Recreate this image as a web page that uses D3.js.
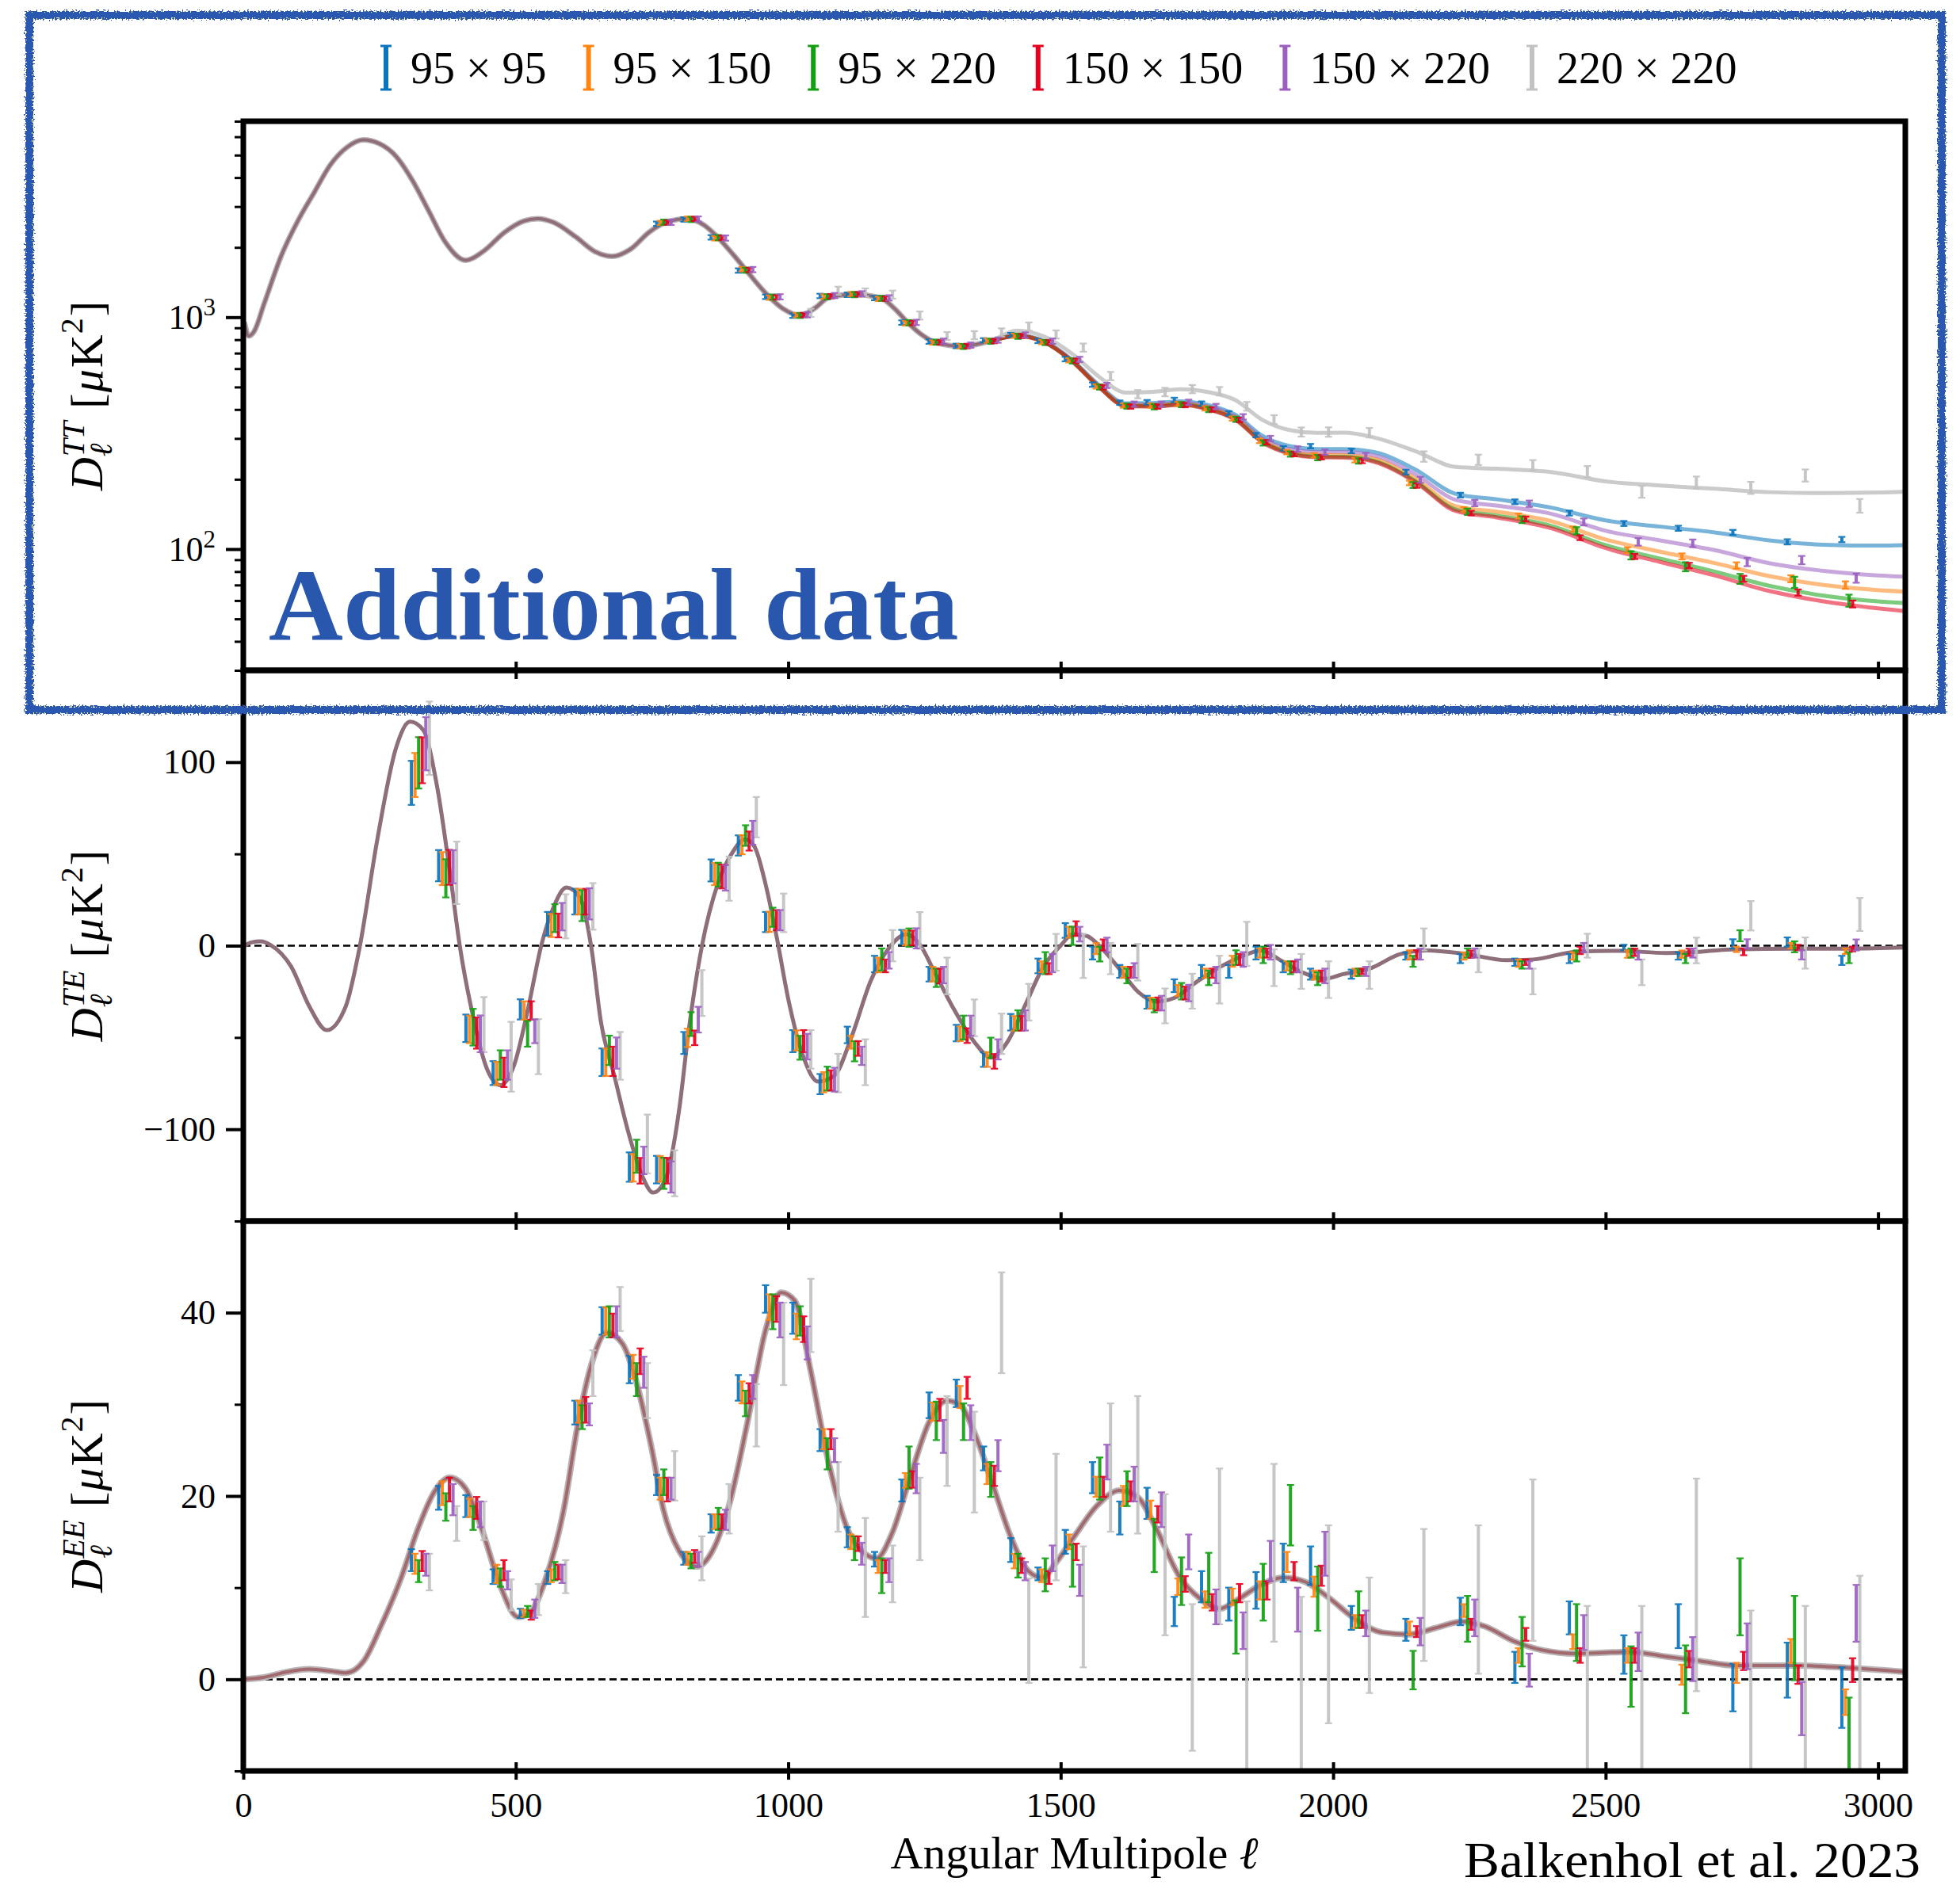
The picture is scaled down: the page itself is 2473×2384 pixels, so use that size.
<!DOCTYPE html>
<html>
<head>
<meta charset="utf-8">
<script src="https://cdn.jsdelivr.net/npm/d3@7"></script>
<style>
  html, body { margin: 0; padding: 0; background: #ffffff; }
  svg { display: block; }
  text { font-family: "Liberation Serif", "Times New Roman", serif; fill: #000; }
</style>
</head>
<body>
<svg id="chart" width="2473" height="2384"></svg>
<script>
// ---------------------------------------------------------------------------
// Spectra (frequency cross-spectra) and their colours
// ---------------------------------------------------------------------------
const spectra = ["95 \u00d7 95", "95 \u00d7 150", "95 \u00d7 220", "150 \u00d7 150", "150 \u00d7 220", "220 \u00d7 220"];
const spectrumColors = ["#0a74bc", "#ff8412", "#12a012", "#e6001e", "#9b5fc0", "#c2c2c2"];
const modelOpacity = [0.55, 0.55, 0.55, 0.55, 0.55, 0.85];

// Multipole bin centres
const ttBins = [775, 825, 875, 925, 975, 1025, 1075, 1125, 1175, 1225, 1275, 1325, 1375, 1425, 1475,
  1525, 1575, 1625, 1675, 1725, 1775, 1825, 1875, 1925, 1975,
  2050, 2150, 2250, 2350, 2450, 2550, 2650, 2750, 2850, 2950];
const polBins = [325, 375, 425, 475, 525, 575, 625, 675, 725, 775, 825, 875, 925, 975, 1025, 1075,
  1125, 1175, 1225, 1275, 1325, 1375, 1425, 1475, 1525, 1575, 1625, 1675, 1725, 1775, 1825, 1875,
  1925, 1975, 2050, 2150, 2250, 2350, 2450, 2550, 2650, 2750, 2850, 2950];

// ---------------------------------------------------------------------------
// TT bandpowers [uK^2] and their 1-sigma errors
// ---------------------------------------------------------------------------
const tt95x95 = [2530, 2640, 2210, 1590, 1225, 1015, 1235, 1250, 1210, 948, 785, 752, 795, 838, 790, 660, 512, 428, 430, 440, 424, 385, 310, 272, 278, 265, 215, 171, 160, 143, 129, 123, 118, 107.5, 110];
const tt95x95Err = [56, 58, 49, 35, 27, 22, 27, 28, 27, 21, 17, 17, 17, 18, 17, 15, 11, 9.4, 9.5, 9.7, 9.3, 8.5, 6.8, 6, 6.1, 6, 5, 4, 3.8, 3.5, 3.2, 3.1, 3, 2.8, 2.9];
const tt95x150 = [2550, 2660, 2190, 1610, 1215, 1020, 1228, 1258, 1200, 942, 778, 750, 792, 832, 782, 652, 503, 416, 416, 423, 405, 366, 293, 262, 254, 242, 193, 148, 139, 122, 99, 93, 85, 74.5, 70];
const tt95x150Err = [56, 58, 48, 35, 27, 22, 27, 28, 26, 21, 17, 17, 17, 18, 17, 14, 11, 9.2, 9.2, 9.3, 9, 8, 6.5, 5.8, 5.6, 5.5, 4.5, 3.6, 3.5, 3.2, 2.8, 2.8, 2.7, 2.6, 2.6];
const tt95x220 = [2570, 2640, 2205, 1595, 1222, 1018, 1225, 1252, 1207, 947, 781, 748, 788, 828, 778, 648, 500, 414, 411, 420, 400, 363, 287, 257, 248, 240, 189, 145, 134, 120, 94, 84, 74.5, 72, 60];
const tt95x220Err = [67, 69, 57, 41, 32, 26, 32, 33, 31, 25, 20, 19, 20, 22, 20, 17, 13, 11, 11, 11, 10.5, 9.5, 7.5, 6.8, 6.6, 6.5, 5.5, 4.6, 4.5, 4.3, 3.8, 3.8, 3.7, 4, 3.6];
const tt150x150 = [2560, 2655, 2200, 1600, 1218, 1022, 1232, 1256, 1203, 944, 779, 751, 789, 830, 779, 649, 499, 412, 412, 418, 400, 361, 289, 257, 249, 240, 188, 143, 135, 112, 93, 85, 74.5, 65, 58];
const tt150x150Err = [56, 58, 48, 35, 27, 22, 27, 28, 26, 21, 17, 17, 17, 18, 17, 14, 11, 9, 9, 9.2, 8.8, 8, 6.4, 5.7, 5.5, 5.3, 4.2, 3.3, 3.1, 2.7, 2.4, 2.3, 2.2, 2, 2];
const tt150x220 = [2565, 2650, 2195, 1605, 1225, 1025, 1240, 1262, 1212, 950, 788, 758, 797, 838, 788, 658, 508, 422, 422, 430, 412, 372, 300, 270, 262, 253, 199, 158, 157, 131, 107.5, 106, 88, 89.7, 75];
const tt150x220Err = [67, 69, 57, 42, 32, 27, 32, 33, 32, 25, 21, 20, 21, 22, 21, 17, 13, 11, 11, 11, 11, 10, 8, 7.2, 7, 7, 6, 5, 5, 4.5, 4, 4, 3.6, 3.7, 3.4];
const tt220x220 = [null, null, null, null, null, 1045, 1302, 1280, 1253, 1018, 830, 837, 860, 912, 843, 740, 558, 466, 476, 490, 480, 413, 362, 320, 320, 318, 251, 243, 230, 216, 177, 194, 184, 208, 154];
const tt220x220Err = [null, null, null, null, null, 42, 52, 51, 50, 41, 33, 34, 35, 37, 34, 30, 23, 19, 20, 20, 20, 18, 16, 14.5, 15, 15, 13, 12.5, 12, 12, 10.5, 11.5, 11, 12.5, 10.5];

// TT best-fit model: shared CMB part, then per-spectrum tails with foregrounds
const ttModelBase = [[2, 950], [10, 830], [20, 870], [38, 1140], [70, 1850], [100, 2600], [130, 3450],
  [160, 4550], [190, 5400], [220, 5820], [250, 5600], [280, 4950], [310, 3900], [340, 2880], [370, 2120],
  [408, 1760], [440, 1920], [480, 2330], [515, 2600], [540, 2660], [570, 2560], [610, 2220], [645, 1920],
  [677, 1830], [710, 1960], [745, 2330], [780, 2590], [815, 2660], [845, 2500], [870, 2220], [900, 1850],
  [930, 1520], [960, 1260], [990, 1090], [1022, 1018], [1050, 1100], [1075, 1220], [1120, 1255],
  [1170, 1210], [1195, 1090], [1220, 945], [1245, 840], [1270, 779], [1320, 749], [1370, 789]];
const ttTailEll = [1420, 1470, 1520, 1570, 1620, 1670, 1720, 1770, 1820, 1870, 1920, 1970, 2020, 2075,
  2150, 2225, 2300, 2400, 2500, 2600, 2700, 2800, 2900, 3000, 3050];
const ttTail95x95 = [837, 787, 657, 510, 425, 426, 434, 418, 380, 308, 278, 270, 270, 262, 221, 173, 164, 151, 133, 125, 118, 109, 104.5, 103.5, 104];
const ttTail95x150 = [832, 781, 650, 503, 416, 416, 423, 406, 367, 294, 263, 255, 254, 245, 202, 153, 145, 132, 110, 97.5, 87, 76.5, 70, 66.5, 65.5];
const ttTail95x220 = [831, 780, 649, 501, 414, 413, 420, 402, 363, 290.5, 259.5, 250.5, 250, 240, 197, 148, 139.5, 126, 104, 91, 80, 69.5, 63, 59.5, 58.5];
const ttTail150x150 = [830, 779, 648, 500, 413, 412, 419, 401, 362, 289, 258, 249, 248, 238, 195, 146, 137, 123, 101, 88, 77, 66, 59.5, 55.5, 54];
const ttTail150x220 = [835, 784, 654, 506, 420, 420, 428, 411, 373, 300, 270, 262, 262, 253, 211, 163, 154, 142, 120, 109, 99, 87, 80.5, 77, 76];
const ttTail220x220 = [875, 824, 698, 555, 473, 477, 489, 476, 440, 361, 326, 317, 318, 303, 265, 226, 222, 215, 196, 188, 182, 176, 174.5, 175.5, 177];

// ---------------------------------------------------------------------------
// TE bandpowers [value, error] in uK^2
// ---------------------------------------------------------------------------
const te95x95 = [[88.7, 12], [43.6, 8.5], [-45, 7.5], [-69.4, 6.5], [-34.7, 5.5], [11.9, 6.5], [24, 7], [-63.5, 7.5], [-120.6, 8], [-122, 7.5], [-53, 6], [41, 6], [54.6, 5.5], [12.9, 5.5], [-52, 6], [-75.4, 5.5], [-48.6, 4.5], [-10, 4.5], [4.6, 4], [-15.5, 4], [-47.6, 4.5], [-62, 4], [-41.7, 4.5], [-11, 4], [8.3, 4], [-4, 3.5], [-14, 3.5], [-30.8, 3.5], [-21.8, 3.5], [-14, 3.5], [-14, 3.5], [-4, 3.5], [-11.5, 3], [-15.5, 3], [-15.5, 2.5], [-5.6, 2], [-7, 2.5], [-9, 2], [-7, 2.5], [-1, 1.5], [-5.6, 2], [1, 2.5], [2, 2.5], [-8, 2.5]];
const te95x150 = [[93, 12], [42, 9], [-45.6, 7.5], [-69.6, 6.3], [-35.3, 5], [11, 6.3], [24, 7], [-63.5, 7.5], [-121, 7.5], [-121.6, 7], [-50.2, 5], [39, 6], [55, 5.2], [13, 5.5], [-51.6, 5.5], [-74.4, 5.5], [-52.6, 3.5], [-10.5, 4], [4.2, 4], [-15.5, 4], [-48, 4], [-62, 4], [-42.3, 4], [-11.5, 3], [7.3, 3], [-1.6, 3], [-14.5, 3], [-31.3, 3], [-24.4, 3], [-15, 2.5], [-8.5, 3], [-4, 2.5], [-11, 2.5], [-16, 2.5], [-14.5, 2], [-5, 2.5], [-5.6, 2], [-9.5, 2], [-5.6, 2], [-4.6, 2], [-4.6, 2], [-2, 1.5], [0, 1.5], [-3, 1.5]];
const te95x220 = [[99.6, 14], [36.7, 10.4], [-44.4, 10], [-65, 8], [-48, 7], [15, 7.6], [21.8, 8.4], [-57, 8], [-114.7, 9], [-124, 8.5], [-42.7, 6.5], [38.7, 6.5], [60, 5.6], [15.5, 5.2], [-55.6, 6.5], [-72.4, 6.5], [-57.5, 5.5], [-7.5, 6], [4.4, 5], [-17.5, 5], [-44.6, 6.5], [-55.6, 5.5], [-40.7, 5.5], [-9.5, 6], [5.4, 5], [-4.6, 4], [-16.5, 4], [-32.8, 3.5], [-24.8, 4.5], [-17.5, 4], [-6.5, 4], [-5, 4.5], [-12, 3.5], [-18, 3.5], [-14.5, 2], [-8.5, 3], [-4, 2.5], [-10.5, 2], [-5.6, 3], [-4, 2.5], [-7, 2.5], [5.4, 3], [-0.6, 3], [-6.5, 3]];
const te150x150 = [[101, 12.5], [42.7, 9.5], [-47.6, 8.5], [-69, 8], [-35.3, 5], [11, 6.5], [24, 7], [-63, 8], [-122.6, 7], [-122.6, 7], [-50.2, 4], [37.7, 6.5], [57, 5.2], [13.9, 5.5], [-52, 6], [-73.4, 5.5], [-56, 4], [-11, 3.5], [4.2, 4], [-16.5, 4], [-49, 4], [-63, 4], [-42.3, 4], [-12.5, 3], [9.3, 4], [0.4, 3], [-14.5, 3], [-31.7, 3.5], [-25.8, 3.5], [-15, 2.5], [-7.5, 3], [-4, 2.5], [-11.5, 3], [-16.5, 3], [-14, 1.5], [-5, 2.5], [-4.6, 2], [-9, 1.5], [-2.6, 2], [-3.6, 2], [-3.6, 2], [-3.4, 1.8], [-1, 1.5], [-1.8, 1.3]];
const te150x220 = [[110, 14.5], [43, 9], [-48, 10], [-65, 8], [-46.6, 6.5], [15.8, 7.5], [22.8, 8.5], [-58.5, 8.5], [-117, 7.5], [-126, 8.5], [-40.3, 7], [37, 7], [61.5, 6.5], [13.9, 5.5], [-55, 7], [-73, 6.5], [-60, 5], [-8, 4.5], [4, 5.5], [-16, 4.5], [-43.6, 5.5], [-56.5, 5.5], [-40.7, 5.5], [-9.5, 5], [6.3, 4], [0.4, 4], [-13.5, 4], [-31.3, 4], [-25.8, 4.5], [-16, 4.5], [-7.5, 4], [-3.6, 4], [-11, 3.5], [-16.5, 4], [-14, 2.5], [-4.6, 3], [-4, 2.5], [-10.5, 2], [-1, 2.5], [-5.6, 2], [-4, 2.5], [1, 2.5], [-5, 2.5], [0.4, 3]];
const te220x220 = [[113, 20], [39.7, 17], [-43, 15], [-60.5, 19], [-55, 15], [16, 12], [21.4, 12.7], [-60, 13], [-108, 16], [-124, 12.5], [-25.8, 12.5], [36.5, 12], [70, 11], [17.9, 10.5], [-56.5, 10.5], [-69.4, 10.5], [-63.5, 12.5], [0, 8.5], [8.3, 10], [-16.5, 10], [-39.3, 10], [-48, 11], [-30.8, 10], [-3.6, 10], [-5.6, 12], [-7, 8.5], [-9, 10], [-32.8, 9.5], [-24.8, 9.5], [-18.5, 13], [1, 12], [-12, 10], [-14, 9.5], [-18.5, 10], [-16, 7.5], [3.4, 6], [-8, 6.5], [-19.5, 7], [0, 6.5], [-14.5, 7], [-2.6, 7], [16.3, 8], [-4, 8.5], [17, 9]];

// TE best-fit model
const teModel = [[2, 0], [15, 1.8], [32, 2.4], [50, 0.4], [88, -11.5], [121, -33], [153, -46], [188, -33],
  [213, -1.6], [246, 58], [280, 107.5], [306, 122], [330, 117.5], [355, 87.7], [380, 38], [397, 0.4],
  [422, -39], [447, -67], [472, -76], [497, -65], [522, -35], [547, 0.4], [568, 20], [593, 31.7],
  [618, 26], [639, -1.6], [656, -41], [681, -71], [706, -101], [731, -124.6], [752, -134.5], [775, -127],
  [800, -89], [817, -47], [842, 0.4], [871, 34], [896, 50], [921, 58], [938, 54], [958, 34], [979, 4.4],
  [1000, -29], [1026, -59], [1055, -74], [1084, -71], [1117, -49], [1151, -19.4], [1184, -1.6],
  [1217, 6.3], [1242, 0.4], [1267, -13.5], [1301, -33], [1343, -53], [1372, -61], [1401, -53],
  [1434, -33], [1468, -11.5], [1501, 0.4], [1522, 6.3], [1547, 5.4], [1576, -1.6], [1610, -13.5],
  [1643, -25.4], [1676, -30.4], [1709, -28.4], [1751, -19.4], [1793, -11.5], [1834, -5.6], [1868, -2.6],
  [1901, -7.5], [1943, -14.5], [1985, -18], [2018, -15.5], [2067, -12.5], [2123, -4.6], [2172, -2.6],
  [2245, -4.6], [2318, -7.9], [2367, -7.5], [2448, -3.2], [2529, -2.8], [2610, -4], [2658, -3.6],
  [2731, -2], [2853, -1.6], [2950, -1.6], [3050, -1]];

// ---------------------------------------------------------------------------
// EE bandpowers [value, error] in uK^2
// ---------------------------------------------------------------------------
const ee95x95 = [[13, 1.2], [19.8, 1.3], [18.9, 1.2], [11.2, 0.8], [7.2, 0.5], [11.1, 0.7], [29.1, 1.3], [39.1, 1.5], [33.8, 1.5], [21.2, 1.1], [13.2, 0.7], [17, 1], [31.8, 1.4], [41.5, 1.5], [39.4, 1.7], [26.1, 1.2], [15.5, 1.1], [13.1, 0.8], [20.6, 1.2], [29.9, 1.4], [31.2, 1.5], [24.1, 1.3], [14.1, 1.3], [11.5, 0.7], [15, 1.3], [22, 1.7], [17.6, 1.8], [19.2, 1.7], [7.4, 1.6], [10.1, 1.7], [8.2, 1.8], [9.7, 2], [12.7, 2.1], [12.4, 2.1], [6.7, 1.3], [5.4, 1.2], [7.4, 1.5], [1.3, 1.7], [6.7, 1.8], [2.7, 2.1], [5.8, 2.4], [-0.9, 2.6], [1, 3], [-2, 3.3]];
const ee95x150 = [[12.6, 1.1], [20.3, 1.3], [18.7, 1], [11.5, 1], [7.2, 0.4], [11.3, 0.7], [29.2, 1.2], [39.1, 1.5], [34.1, 1.3], [20.8, 1.2], [13.2, 0.7], [17.2, 0.8], [31.3, 1.2], [40.6, 1.4], [38.5, 1.4], [26.2, 1.1], [15, 0.8], [12.3, 0.7], [21.7, 0.8], [29.2, 1], [30.8, 1.2], [22.4, 1.1], [12.9, 0.8], [11.3, 0.7], [15, 0.8], [21, 1.1], [20, 1.1], [18.5, 1], [10.1, 0.9], [8.7, 0.9], [9, 0.9], [9.7, 1], [12.8, 1.1], [10.1, 1.1], [6.3, 0.7], [5.6, 0.7], [7.5, 0.7], [2.6, 0.8], [4.1, 0.8], [2.6, 0.8], [0.5, 1.1], [0.7, 1.1], [3.1, 1.3], [-2.5, 1.4]];
const ee95x220 = [[11.8, 1.2], [18.8, 1.5], [17.6, 1.3], [11.1, 1], [7.4, 0.6], [11.8, 1], [28.6, 1.3], [39, 1.7], [32.7, 1.8], [21.5, 1.4], [12.9, 0.8], [17.5, 1.2], [30.1, 1.4], [40.1, 1.9], [39.1, 1.6], [24.6, 1.7], [14.3, 1.3], [11.3, 1.9], [23.1, 2.3], [28.2, 2.1], [28.1, 2], [21.8, 1.9], [12.4, 1.3], [11.4, 1.8], [12.4, 2.3], [21.9, 2.3], [20.8, 1.9], [14.6, 2.9], [10.7, 2.6], [11.1, 2.7], [5.7, 2.9], [9.5, 3.1], [17.9, 3.3], [8.8, 3.5], [7.6, 2], [1, 2.1], [6.6, 2.5], [4.1, 2.7], [5.1, 3.1], [0.3, 3.3], [0, 3.7], [9, 4.2], [4.5, 4.6], [-8, 6]];
const ee150x150 = [[12.9, 1.1], [20.7, 1.3], [18.7, 1.2], [11.9, 1.1], [7, 0.5], [11.7, 0.8], [29.4, 1.4], [38.6, 1.3], [34.7, 1.4], [20.7, 1.3], [13.4, 0.7], [17.2, 0.8], [31.2, 1.1], [40.4, 1.4], [38.2, 1.4], [26.2, 1.1], [14.8, 0.8], [12.3, 0.7], [21.8, 0.9], [29.4, 1.2], [31.8, 1.2], [22.2, 1.1], [12.4, 0.8], [11.1, 0.7], [13.9, 0.9], [21, 1.1], [20.5, 1.1], [18, 0.9], [10.4, 0.85], [8.4, 0.9], [9.4, 1], [9.7, 1], [11.8, 1], [11.3, 1.1], [6.3, 0.7], [5.2, 0.6], [6, 0.6], [4.9, 0.7], [2.6, 0.8], [2.6, 0.8], [2.2, 0.9], [2, 1], [0.5, 1], [1, 1.3]];
const ee150x220 = [[12.5, 1.2], [19.6, 1.7], [18, 1.4], [10.8, 1], [7.7, 1], [11.5, 1], [28.9, 1.2], [39, 1.7], [33.5, 1.7], [20.8, 1.2], [13.1, 0.8], [17.4, 1.1], [31.9, 1.3], [39.2, 1.9], [36.7, 1.8], [25, 1.3], [13.7, 1.2], [11.9, 1.3], [21.9, 1.6], [26.5, 1.8], [28, 1.9], [24.4, 1.7], [11.8, 1], [13.2, 1.4], [10.8, 1.7], [23.7, 1.9], [21.3, 1.9], [18.5, 1.9], [13.9, 1.9], [7.9, 1.9], [5.3, 2], [12.9, 2.2], [7.6, 2.4], [13.7, 2.4], [6.1, 1.4], [5.2, 1.5], [6.7, 2], [1, 1.8], [5.1, 1.9], [3, 2.1], [2.2, 2.4], [3.6, 2.5], [-3.2, 2.9], [7.2, 3.1]];
const ee220x220 = [[11.7, 2], [17, 1.9], [17.3, 2.1], [9.2, 1.7], [8.7, 1.7], [11.2, 1.8], [33.4, 2.5], [40.4, 2.4], [31.5, 3], [22.2, 2.7], [13.2, 2.4], [18.6, 2.7], [28.8, 3.4], [36.6, 4.5], [39.7, 4], [19.9, 3.8], [12.2, 5.4], [11.5, 3.1], [17.5, 4.5], [26, 4.9], [23.7, 5.5], [38.9, 5.5], [5.3, 5.7], [17.7, 6.9], [7.9, 6.6], [23.1, 7], [23.4, 7.5], [12.5, 7.7], [0.2, 8], [14.5, 8.5], [-1, 9.5], [13.8, 9.7], [-1, 10], [6, 10.8], [4.8, 6.3], [9.2, 7.2], [8.7, 8.1], [13, 8.8], [-3, 11], [-3, 11], [10.3, 11.6], [-4, 11.5], [-4, 12], [-1, 12.3]];

// EE best-fit model
const eeModel = [[2, 0], [37, 0.2], [80, 0.8], [121, 1.1], [160, 0.9], [188, 0.7], [221, 2.0], [254, 6.0],
  [288, 10.8], [321, 16.5], [350, 20.4], [379, 22], [408, 20.8], [437, 16.5], [471, 10.3], [504, 6.8],
  [525, 7.2], [554, 10.8], [588, 18.5], [613, 27.5], [638, 34.2], [667, 37.8], [696, 36.6], [721, 32.5],
  [750, 25], [771, 18.5], [800, 14], [833, 12.3], [858, 13.7], [891, 18.9], [925, 28], [958, 38],
  [987, 42.2], [1012, 41.3], [1041, 33.7], [1074, 23.7], [1108, 16.5], [1141, 13.7], [1162, 13.2],
  [1191, 16], [1225, 22.3], [1258, 28], [1291, 30.4], [1316, 29.9], [1341, 27], [1375, 21.3],
  [1408, 15.6], [1441, 11.8], [1466, 11.1], [1491, 12.7], [1525, 15.6], [1566, 18.9], [1608, 20.6],
  [1641, 19.9], [1675, 16.5], [1717, 11.3], [1758, 8.7], [1792, 7.7], [1825, 8.7], [1867, 10.3],
  [1909, 11.1], [1950, 10.6], [1992, 8.9], [2042, 6.5], [2091, 5.1], [2139, 4.9], [2188, 5.6],
  [2237, 6.3], [2277, 5.8], [2334, 4.1], [2382, 3.2], [2447, 2.8], [2544, 3.0], [2609, 2.5],
  [2673, 2.0], [2738, 1.5], [2852, 1.5], [2933, 1.3], [3050, 0.8]];

// Axis tick values
const xTicks = [0, 500, 1000, 1500, 2000, 2500, 3000];
const ttMajorTicks = [100, 1000];
const ttMinorTicks = [40, 50, 60, 70, 80, 90, 200, 300, 400, 500, 600, 700, 800, 900, 2000, 3000, 4000, 5000, 6000, 7000];
const teMajorTicks = [-100, 0, 100];
const teMinorTicks = [-150, -50, 50, 150];
const eeMajorTicks = [0, 20, 40];
const eeMinorTicks = [-10, 10, 30, 50];

// ---------------------------------------------------------------------------
// Layout
// ---------------------------------------------------------------------------
const svg = d3.select("#chart");
const plotLeft = 307, plotRight = 2404;
const panelTT = { top: 153, bottom: 846 };
const panelTE = { top: 846, bottom: 1541 };
const panelEE = { top: 1541, bottom: 2235 };
const FONT = '"Liberation Serif", "Times New Roman", serif';

const x = d3.scaleLinear().domain([0, 3050]).range([plotLeft, plotRight]);
const yTT = d3.scaleLog().domain([30, 7000]).range([panelTT.bottom, panelTT.top]);
const yTE = d3.scaleLinear().domain([-150, 150]).range([panelTE.bottom, panelTE.top]);
const yEE = d3.scaleLinear().domain([-10, 50]).range([panelEE.bottom, panelEE.top]);

const defs = svg.append("defs");
[["clipTT", panelTT], ["clipTE", panelTE], ["clipEE", panelEE]].forEach(([id, p]) => {
  defs.append("clipPath").attr("id", id).append("rect")
    .attr("x", plotLeft).attr("y", p.top)
    .attr("width", plotRight - plotLeft).attr("height", p.bottom - p.top);
});
// crayon-like edge for the highlight frame
const rough = defs.append("filter").attr("id", "rough")
  .attr("x", "-2%").attr("y", "-2%").attr("width", "104%").attr("height", "104%");
rough.append("feTurbulence").attr("type", "fractalNoise").attr("baseFrequency", "0.5")
  .attr("numOctaves", 2).attr("seed", 7).attr("result", "noise");
rough.append("feDisplacementMap").attr("in", "SourceGraphic").attr("in2", "noise")
  .attr("scale", 9).attr("xChannelSelector", "R").attr("yChannelSelector", "G");

// horizontal offset (in multipoles) that separates the six spectra inside a bin
const specOffset = i => (i - 2.5) * 6.6;

function modelLine(y) {
  return d3.line().x(d => x(d[0])).y(d => y(d[1])).curve(d3.curveMonotoneX);
}

// error bars drawn through a data join
function drawErrorBars(g, bins, rows, y, color, idx) {
  const pts = bins.map((l, k) => ({ l, v: rows[k][0], e: rows[k][1] }))
    .filter(d => d.v !== null && d.v !== undefined);
  const grp = g.append("g").attr("opacity", 0.92);
  grp.selectAll("line.bar").data(pts).join("line").attr("class", "bar")
    .attr("x1", d => x(d.l + specOffset(idx))).attr("x2", d => x(d.l + specOffset(idx)))
    .attr("y1", d => y(d.v - d.e)).attr("y2", d => y(d.v + d.e))
    .attr("stroke", color).attr("stroke-width", 4);
  ["lo", "hi"].forEach(side => {
    grp.selectAll("line.cap" + side).data(pts).join("line").attr("class", "cap" + side)
      .attr("x1", d => x(d.l + specOffset(idx)) - 4.5).attr("x2", d => x(d.l + specOffset(idx)) + 4.5)
      .attr("y1", d => y(side === "lo" ? d.v - d.e : d.v + d.e))
      .attr("y2", d => y(side === "lo" ? d.v - d.e : d.v + d.e))
      .attr("stroke", color).attr("stroke-width", 2.2);
  });
}

// ---------------------------------------------------------------------------
// TT panel
// ---------------------------------------------------------------------------
const gTT = svg.append("g").attr("clip-path", "url(#clipTT)");
const ttTails = [ttTail95x95, ttTail95x150, ttTail95x220, ttTail150x150, ttTail150x220, ttTail220x220];
const ttLine = modelLine(yTT);
[5, 0, 4, 1, 2, 3].forEach(i => {
  const pts = ttModelBase.concat(ttTailEll.map((l, k) => [l, ttTails[i][k]]));
  gTT.append("path").attr("d", ttLine(pts)).attr("fill", "none")
    .attr("stroke", spectrumColors[i]).attr("stroke-opacity", modelOpacity[i]).attr("stroke-width", 5);
});
gTT.append("path").attr("d", ttLine(ttModelBase)).attr("fill", "none")
  .attr("stroke", "#b9b2b4").attr("stroke-width", 7);
gTT.append("path").attr("d", ttLine(ttModelBase)).attr("fill", "none")
  .attr("stroke", "#8f6e79").attr("stroke-width", 4);

const ttVals = [tt95x95, tt95x150, tt95x220, tt150x150, tt150x220, tt220x220];
const ttErrs = [tt95x95Err, tt95x150Err, tt95x220Err, tt150x150Err, tt150x220Err, tt220x220Err];
[5, 0, 1, 2, 3, 4].forEach(i => {
  drawErrorBars(gTT, ttBins, ttVals[i].map((v, k) => [v, ttErrs[i][k]]), yTT, spectrumColors[i], i);
});

// ---------------------------------------------------------------------------
// TE panel
// ---------------------------------------------------------------------------
const gTE = svg.append("g").attr("clip-path", "url(#clipTE)");
gTE.append("line").attr("x1", plotLeft).attr("x2", plotRight)
  .attr("y1", yTE(0)).attr("y2", yTE(0))
  .attr("stroke", "#000").attr("stroke-width", 2.6).attr("stroke-dasharray", "9,5");
gTE.append("path").attr("d", modelLine(yTE)(teModel)).attr("fill", "none")
  .attr("stroke", "#8d6e7a").attr("stroke-width", 5);
const teRows = [te95x95, te95x150, te95x220, te150x150, te150x220, te220x220];
[5, 0, 1, 2, 3, 4].forEach(i => drawErrorBars(gTE, polBins, teRows[i], yTE, spectrumColors[i], i));

// ---------------------------------------------------------------------------
// EE panel
// ---------------------------------------------------------------------------
const gEE = svg.append("g").attr("clip-path", "url(#clipEE)");
gEE.append("line").attr("x1", plotLeft).attr("x2", plotRight)
  .attr("y1", yEE(0)).attr("y2", yEE(0))
  .attr("stroke", "#000").attr("stroke-width", 2.6).attr("stroke-dasharray", "9,5");
gEE.append("path").attr("d", modelLine(yEE)(eeModel)).attr("fill", "none")
  .attr("stroke", "#bab3b5").attr("stroke-width", 8);
gEE.append("path").attr("d", modelLine(yEE)(eeModel)).attr("fill", "none")
  .attr("stroke", "#a2696f").attr("stroke-width", 4);
const eeRows = [ee95x95, ee95x150, ee95x220, ee150x150, ee150x220, ee220x220];
[5, 0, 1, 2, 3, 4].forEach(i => drawErrorBars(gEE, polBins, eeRows[i], yEE, spectrumColors[i], i));

// ---------------------------------------------------------------------------
// Axes
// ---------------------------------------------------------------------------
function styleAxis(g, width) {
  g.select(".domain").remove();
  g.selectAll(".tick line").attr("stroke", "#000").attr("stroke-width", width);
  g.selectAll(".tick text").attr("font-family", FONT).attr("font-size", 44).attr("fill", "#000");
}

// x ticks crossing each panel's lower spine
[panelTT.bottom, panelTE.bottom, panelEE.bottom].forEach((yy, k) => {
  const down = svg.append("g").attr("transform", `translate(0,${yy})`)
    .call(d3.axisBottom(x).tickValues(xTicks).tickSize(11).tickPadding(16)
      .tickFormat(k === 2 ? d3.format("d") : () => ""));
  styleAxis(down, 4);
  const up = svg.append("g").attr("transform", `translate(0,${yy})`)
    .call(d3.axisTop(x).tickValues(xTicks).tickSize(11).tickFormat(() => ""));
  styleAxis(up, 4);
});

function yAxes(scale, major, minor, fmt) {
  const gMaj = svg.append("g").attr("transform", `translate(${plotLeft},0)`)
    .call(d3.axisLeft(scale).tickValues(major).tickSize(22).tickPadding(13).tickFormat(fmt));
  styleAxis(gMaj, 4);
  const gMin = svg.append("g").attr("transform", `translate(${plotLeft},0)`)
    .call(d3.axisLeft(scale).tickValues(minor).tickSize(11).tickFormat(() => ""));
  styleAxis(gMin, 3);
  return gMaj;
}
const ttAxis = yAxes(yTT, ttMajorTicks, ttMinorTicks, () => "");
ttAxis.selectAll(".tick").each(function (d) {
  const t = d3.select(this).append("text").attr("x", -35).attr("dy", "0.32em")
    .attr("text-anchor", "end").attr("font-family", FONT).attr("font-size", 44).attr("fill", "#000");
  t.append("tspan").text("10");
  t.append("tspan").attr("dy", -17).attr("font-size", 31).text(String(Math.round(Math.log10(d))));
});
yAxes(yTE, teMajorTicks, teMinorTicks, d => (d < 0 ? "\u2212" + Math.abs(d) : String(d)));
yAxes(yEE, eeMajorTicks, eeMinorTicks, d => String(d));

// spines
[panelTT, panelTE, panelEE].forEach(p => {
  svg.append("rect").attr("x", plotLeft).attr("y", p.top)
    .attr("width", plotRight - plotLeft).attr("height", p.bottom - p.top)
    .attr("fill", "none").attr("stroke", "#000").attr("stroke-width", 7);
});

// y-axis titles:  D_ell^{XY} [uK^2]
function yTitle(cy, pol) {
  const g = svg.append("g").attr("transform", `translate(129,${cy}) rotate(-90)`);
  const inner = g.append("g");
  let cx = 0;
  const put = (txt, size, italic, dy) => {
    const t = inner.append("text").attr("x", cx).attr("y", dy).attr("font-family", FONT)
      .attr("font-size", size).attr("font-style", italic ? "italic" : "normal").text(txt);
    return t.node().getComputedTextLength();
  };
  cx += put("D", 58, true, 0) + 1;
  const base = cx;
  const wSup = put(pol, 40, true, -23);
  cx = base;
  const wSub = put("\u2113", 40, true, 12);
  cx = base + Math.max(wSup, wSub) + 16;
  cx += put("[", 58, false, 0) + 1;
  cx += put("\u03bc", 58, true, 0) + 2;
  cx += put("K", 58, false, 0) + 1;
  cx += put("2", 40, false, -25) + 2;
  cx += put("]", 58, false, 0);
  inner.attr("transform", `translate(${-cx / 2},0)`);
}
yTitle((panelTT.top + panelTT.bottom) / 2, "TT");
yTitle((panelTE.top + panelTE.bottom) / 2, "TE");
yTitle((panelEE.top + panelEE.bottom) / 2, "EE");

// x-axis title
const xt = svg.append("text").attr("x", (plotLeft + plotRight) / 2).attr("y", 2358)
  .attr("text-anchor", "middle").attr("font-family", FONT).attr("font-size", 57);
xt.append("tspan").text("Angular Multipole ");
xt.append("tspan").attr("font-style", "italic").text("\u2113");

// ---------------------------------------------------------------------------
// Legend
// ---------------------------------------------------------------------------
const leg = svg.append("g");
const legItems = [];
let lx = 0;
spectra.forEach((name, i) => {
  const it = leg.append("g");
  it.append("line").attr("x1", 0).attr("x2", 0).attr("y1", 58).attr("y2", 113)
    .attr("stroke", spectrumColors[i]).attr("stroke-width", 6);
  [58, 113].forEach(yy => it.append("line").attr("x1", -7).attr("x2", 7).attr("y1", yy).attr("y2", yy)
    .attr("stroke", spectrumColors[i]).attr("stroke-width", 3));
  const t = it.append("text").attr("x", 31).attr("y", 105).attr("font-family", FONT)
    .attr("font-size", 56).text(name);
  const w = 31 + t.node().getComputedTextLength();
  legItems.push({ it, at: lx });
  lx += w + (i < spectra.length - 1 ? 53 : 0);
});
const legStart = 487;
legItems.forEach(d => d.it.attr("transform", `translate(${legStart + d.at},0)`));

// ---------------------------------------------------------------------------
// Highlight frame, caption and credit
// ---------------------------------------------------------------------------
svg.append("rect").attr("x", 37).attr("y", 19).attr("width", 2413).attr("height", 877)
  .attr("fill", "none").attr("stroke", "#2a58b0").attr("stroke-width", 10)
  .attr("filter", "url(#rough)");
svg.append("text").attr("x", 339).attr("y", 807).attr("font-family", FONT)
  .attr("font-size", 130).attr("font-weight", "bold").style("fill", "#2957ad")
  .text("Additional data");
svg.append("text").attr("x", 1847).attr("y", 2369).attr("font-family", FONT)
  .attr("font-size", 63).attr("textLength", 576).attr("lengthAdjust", "spacingAndGlyphs")
  .text("Balkenhol et al. 2023");
</script>
</body>
</html>
